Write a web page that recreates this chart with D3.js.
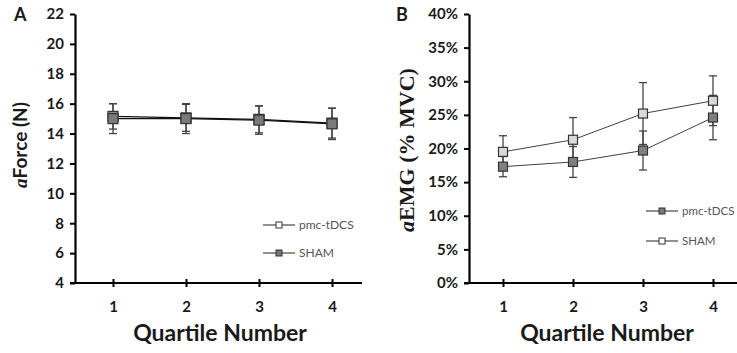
<!DOCTYPE html>
<html>
<head>
<meta charset="utf-8">
<script src="https://cdn.jsdelivr.net/npm/d3@7"></script>
<style>
  body { margin: 0; background: #fff; }
  svg { display: block; }
  text { font-family: Lato, "Open Sans", sans-serif; }
</style>
</head>
<body>
<div id="chart"></div>
<script>
// quartiles
const quartiles = [1, 2, 3, 4];

// panel A: force (N)
const forceTicks = [4, 6, 8, 10, 12, 14, 16, 18, 20, 22];
const forcePmc = [15.15, 15.05, 14.95, 14.7];
const forcePmcErr = [0.85, 0.9, 0.9, 1.0];
const forceSham = [15.0, 15.0, 14.9, 14.65];
const forceShamErr = [1.0, 1.0, 0.95, 1.05];

// panel B: EMG (% MVC)
const emgTicks = [0, 0.05, 0.10, 0.15, 0.20, 0.25, 0.30, 0.35, 0.40];
const emgPmc = [0.173, 0.180, 0.197, 0.246];
const emgPmcErr = [0.015, 0.023, 0.029, 0.033];
const emgSham = [0.195, 0.213, 0.252, 0.271];
const emgShamErr = [0.024, 0.033, 0.046, 0.037];

const W = 737, H = 353;
const svg = d3.select("#chart").append("svg")
  .attr("width", W)
  .attr("height", H);

const serif = "'Liberation Serif', 'DejaVu Serif', serif";

function drawPanel(p) {
  const g = svg.append("g");

  const x = d3.scalePoint()
    .domain(quartiles)
    .range(p.xRange)
    .padding(0.5);
  const y = d3.scaleLinear()
    .domain(p.yDomain)
    .range([283, 14]);

  // y axis
  const yAxis = g.append("g")
    .attr("transform", "translate(" + p.axisX + ",0)")
    .call(d3.axisLeft(y).tickValues(p.yTicks).tickFormat(p.yFormat).tickSize(5).tickSizeOuter(0).tickPadding(6));
  yAxis.select(".domain").attr("stroke", "#000").attr("stroke-width", 2.2);
  yAxis.selectAll(".tick line").attr("stroke", "#000").attr("stroke-width", 2);
  yAxis.selectAll(".tick text")
    .attr("fill", "#1a1a1a")
    .style("font-size", "15px")
    .style("font-weight", "bold");

  // x axis
  const xAxis = g.append("g")
    .attr("transform", "translate(0," + y(p.yDomain[0]) + ")")
    .call(d3.axisBottom(x).tickSize(4).tickSizeOuter(0).tickPadding(14));
  xAxis.select(".domain").remove();
  xAxis.append("line")
    .attr("x1", p.axisX - 5).attr("x2", p.xEnd)
    .attr("stroke", "#000").attr("stroke-width", 2.2);
  xAxis.selectAll(".tick line").attr("y1", -4).attr("y2", 4)
    .attr("stroke", "#000").attr("stroke-width", 2);
  xAxis.selectAll(".tick text")
    .attr("fill", "#1a1a1a")
    .style("font-size", "15px")
    .style("font-weight", "bold");

  // x title
  g.append("text")
    .attr("x", p.xTitleX).attr("y", 341)
    .attr("text-anchor", "middle")
    .attr("fill", "#1a1a1a")
    .style("font-size", "23px")
    .style("font-weight", "bold")
    .text("Quartile Number");

  // y title
  const yt = g.append("text")
    .attr("transform", "translate(" + p.yTitleX + "," + p.yTitleY + ") rotate(-90)")
    .attr("text-anchor", "middle")
    .attr("fill", "#1a1a1a")
    .style("font-size", p.yTitleSize)
    .style("font-weight", "bold");
  yt.append("tspan").style("font-family", serif).style("font-style", "italic").text("a");
  yt.append("tspan").style("font-family", p.titleFont).text(p.yTitle);

  // panel letter
  g.append("text")
    .attr("x", p.letterX).attr("y", 21)
    .attr("fill", "#1a1a1a")
    .style("font-size", "18px")
    .style("font-weight", "bold")
    .text(p.letter);

  const line = d3.line().x((d, i) => x(quartiles[i])).y(d => y(d));

  p.series.forEach(s => {
    const eg = g.append("g");
    // error bars
    s.values.forEach((v, i) => {
      const cx = x(quartiles[i]);
      eg.append("line")
        .attr("x1", cx).attr("x2", cx)
        .attr("y1", y(v - s.err[i])).attr("y2", y(v + s.err[i]))
        .attr("stroke", "#444").attr("stroke-width", 1.3);
      [v - s.err[i], v + s.err[i]].forEach(e => {
        eg.append("line")
          .attr("x1", cx - 4).attr("x2", cx + 4)
          .attr("y1", y(e)).attr("y2", y(e))
          .attr("stroke", "#444").attr("stroke-width", 1.3);
      });
    });
  });

  p.series.forEach(s => {
    g.append("path")
      .datum(s.values)
      .attr("d", line)
      .attr("fill", "none")
      .attr("stroke", p.lineColor)
      .attr("stroke-width", p.lineWidth);
    g.selectAll(null)
      .data(s.values)
      .enter()
      .append("rect")
      .attr("x", (d, i) => x(quartiles[i]) - p.marker / 2)
      .attr("y", d => y(d) - p.marker / 2)
      .attr("width", p.marker)
      .attr("height", p.marker)
      .attr("fill", s.fill)
      .attr("stroke", "#333")
      .attr("stroke-width", 1.2);
  });

  // legend
  p.legend.forEach((l, i) => {
    const ly = p.legendY + i * p.legendGap;
    g.append("line")
      .attr("x1", p.legendX).attr("x2", p.legendX + 32)
      .attr("y1", ly).attr("y2", ly)
      .attr("stroke", "#222").attr("stroke-width", 1);
    g.append("rect")
      .attr("x", p.legendX + 13).attr("y", ly - 3)
      .attr("width", 6).attr("height", 6)
      .attr("fill", l.fill).attr("stroke", "#333").attr("stroke-width", 1);
    g.append("text")
      .attr("x", p.legendX + 36).attr("y", ly + 4)
      .attr("fill", "#555")
      .style("font-size", p.legendSize)
      .text(l.name);
  });
}

drawPanel({
  letter: "A", letterX: 14,
  xRange: [76.5, 368.5], xEnd: 362, axisX: 75,
  yDomain: [4, 22], yTicks: forceTicks, yFormat: d3.format("d"),
  xTitleX: 220,
  yTitle: "Force (N)", titleFont: "Lato, sans-serif", yTitleSize: "19px",
  yTitleX: 27, yTitleY: 145,
  lineColor: "#111", lineWidth: 1.3, marker: 10,
  series: [
    { values: forcePmc, err: forcePmcErr, fill: "#8a8a8a" },
    { values: forceSham, err: forceShamErr, fill: "#7a7a7a" }
  ],
  legend: [{ name: "pmc-tDCS", fill: "#fff" }, { name: "SHAM", fill: "#777" }],
  legendX: 263, legendY: 225, legendGap: 28, legendSize: "12px"
});

drawPanel({
  letter: "B", letterX: 396,
  xRange: [468, 748], xEnd: 737, axisX: 469,
  yDomain: [0, 0.4], yTicks: emgTicks, yFormat: d3.format(".0%"),
  xTitleX: 607,
  yTitle: "EMG (% MVC)", titleFont: serif, yTitleSize: "22px",
  yTitleX: 414, yTitleY: 150,
  lineColor: "#404040", lineWidth: 1, marker: 9,
  series: [
    { values: emgPmc, err: emgPmcErr, fill: "#7f7f7f" },
    { values: emgSham, err: emgShamErr, fill: "#d9d9d9" }
  ],
  legend: [{ name: "pmc-tDCS", fill: "#777" }, { name: "SHAM", fill: "#fff" }],
  legendX: 646, legendY: 211, legendGap: 30, legendSize: "11.5px"
});
</script>
</body>
</html>
